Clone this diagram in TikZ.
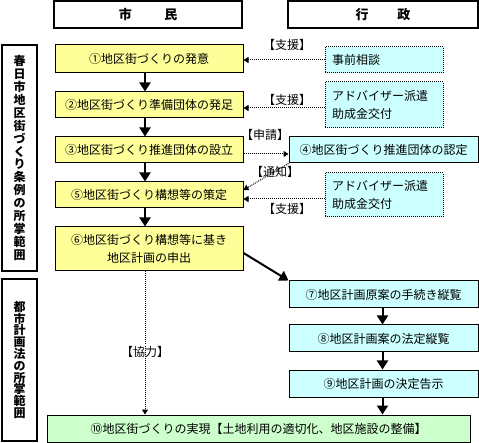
\documentclass[tikz,border=0pt]{standalone}
\usepackage{fontspec}
\setmainfont{Noto Sans CJK JP}
\usetikzlibrary{arrows.meta}
\definecolor{yel}{HTML}{FFFF99}
\definecolor{cyn}{HTML}{CCFFFF}
\definecolor{grn}{HTML}{CCFFCC}
\tikzset{
 base/.style={draw, line width=1pt, inner sep=0pt, font=\fontsize{12}{18}\selectfont},
 ybox/.style={base, fill=yel, minimum width=188pt},
 cbox/.style={base, fill=cyn, minimum width=189pt},
 dbox/.style={base, fill=cyn, dash pattern=on 1pt off 1pt, text width=104pt, inner xsep=7pt, align=left},
 gbox/.style={base, fill=grn},
 hbox/.style={draw, line width=2pt, inner sep=0pt, font=\bfseries\fontsize{13}{13}\selectfont},
 vbox/.style={draw, line width=2pt, inner sep=0pt, minimum width=35pt, align=center, font=\bfseries\fontsize{12}{12.9}\selectfont},
 sarrow/.style={line width=2pt, -{Triangle[width=11pt,length=9pt]}},
 darrow/.style={line width=1pt, dash pattern=on 1pt off 1pt, -{Triangle[width=6pt,length=5pt]}},
 lbl/.style={font=\fontsize{12}{12}\selectfont, inner sep=0pt},
}
\begin{document}
\begin{tikzpicture}[x=1pt,y=-1pt]
\useasboundingbox (0,0) rectangle (479,443);
% headers
\node[hbox, minimum width=188pt, minimum height=27pt] (h1) at (148,14.5) {市\hspace{2.5em}民};
\node[hbox, minimum width=190pt, minimum height=27pt] (h2) at (383,14.5) {行\hspace{2.2em}政};
% left vertical boxes
\node[vbox, minimum height=226pt] (l1) at (19.5,158) {春\\日\\市\\地\\区\\街\\づ\\く\\り\\条\\例\\の\\所\\掌\\範\\囲};
\node[vbox, minimum height=162pt, font=\bfseries\fontsize{12}{11.8}\selectfont] (l2) at (19.5,360) {都\\市\\計\\画\\法\\の\\所\\掌\\範\\囲};
% citizen boxes
\node[ybox, minimum height=28pt] (y1) at (149,59) {①地区街づくりの発意};
\node[ybox, minimum height=26pt] (y2) at (149,105) {②地区街づくり準備団体の発足};
\node[ybox, minimum height=26pt] (y3) at (149,150) {③地区街づくり推進団体の設立};
\node[ybox, minimum height=26pt] (y5) at (149,195) {⑤地区街づくり構想等の策定};
\node[ybox, minimum height=44pt, align=center] (y6) at (149,249) {⑥地区街づくり構想等に基き\\地区計画の申出};
% administration boxes
\node[dbox, minimum height=26pt] (d1) at (384,60) {事前相談};
\node[dbox, minimum height=46pt] (d2) at (384,105) {アドバイザー派遣\\助成金交付};
\node[dbox, minimum height=44pt] (d3) at (384,195) {アドバイザー派遣\\助成金交付};
\node[cbox, minimum height=26pt] (b4) at (383.5,150) {④地区街づくり推進団体の認定};
\node[cbox, minimum height=27pt] (b7) at (383.5,294.5) {⑦地区計画原案の手続き縦覧};
\node[cbox, minimum height=27pt] (b8) at (383.5,338.5) {⑧地区計画案の法定縦覧};
\node[cbox, minimum height=27pt] (b9) at (383.5,383.5) {⑨地区計画の決定告示};
\node[gbox, minimum width=423pt, minimum height=27pt] (g10) at (258.5,428.5) {⑩地区街づくりの実現【土地利用の適切化、地区施設の整備】};
% solid arrows
\draw[sarrow] ([xshift=-4pt]y1.south) -- ([xshift=-4pt]y2.north);
\draw[sarrow] ([xshift=-4pt]y2.south) -- ([xshift=-4pt]y3.north);
\draw[sarrow] ([xshift=-4pt]y3.south) -- ([xshift=-4pt]y5.north);
\draw[sarrow] ([xshift=-4pt]y5.south) -- ([xshift=-4pt]y6.north);
\draw[sarrow] ([yshift=-4pt]y6.east) -- (b7.north west);
\draw[sarrow] ([xshift=-1pt]b7.south) -- ([xshift=-1pt]b8.north);
\draw[sarrow] ([xshift=-1pt]b8.south) -- ([xshift=-1pt]b9.north);
\draw[sarrow] ([xshift=-1pt]b9.south) -- ([xshift=-1pt]b9.south |- g10.north);
% dotted arrows
\draw[darrow] (d1.west) -- (d1.west -| y1.east);
\draw[darrow] ([yshift=-3pt]d2.west) -- ([yshift=-3pt]d2.west -| y2.east);
\draw[darrow] ([yshift=-4pt]y3.east) -- ([yshift=-4pt]y3.east -| b4.west);
\draw[darrow] (b4.south west) -- ([yshift=5pt]y5.east);
\draw[darrow] ([yshift=-4pt]d3.west) -- ([yshift=-4pt]d3.west -| y5.east);
\draw[darrow] ([xshift=-4pt]y6.south) -- ([xshift=-4pt]y6.south |- g10.north);
% labels
\node[lbl] (s1) at (287,45) {【支援】};
\node[lbl] (s2) at (287,100) {【支援】};
\node[lbl] (s3) at (265,135) {【申請】};
\node[lbl] (s4) at (275,172) {【通知】};
\node[lbl] (s5) at (287,209) {【支援】};
\node[lbl] (s6) at (145,352) {【協力】};
\end{tikzpicture}
\end{document}
